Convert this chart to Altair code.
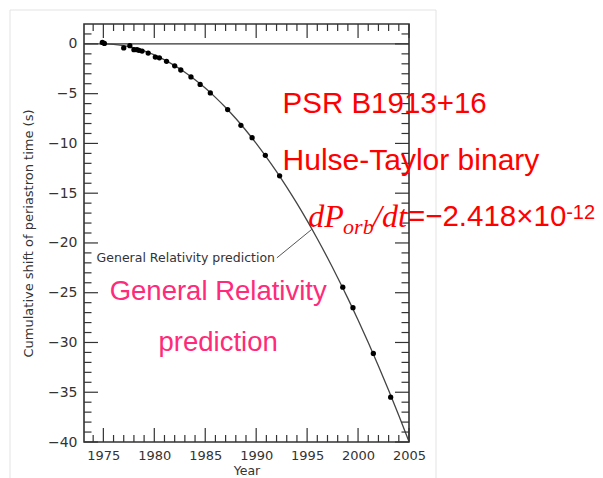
import altair as alt
import pandas as pd

# ---- data ----
obs_year = [1974.9, 1975.1, 1977.0, 1977.6, 1978.0, 1978.3, 1978.5, 1978.8, 1979.4,
            1980.1, 1980.5, 1981.2, 1982.0, 1982.6, 1983.6, 1984.5, 1985.5, 1987.2,
            1988.5, 1989.6, 1990.9, 1992.3, 1998.5, 1999.5, 2001.5, 2003.2]
obs_shift = [0.15, 0.05, -0.40, -0.18, -0.58, -0.58, -0.65, -0.72, -0.92,
             -1.32, -1.40, -1.75, -2.20, -2.62, -3.32, -4.07, -4.93, -6.60,
             -8.18, -9.42, -11.20, -13.25, -24.44, -26.50, -31.10, -35.50]

curve_year = [1975, 1976, 1977, 1978, 1979, 1980, 1981, 1982, 1983, 1984, 1985,
              1986, 1987, 1988, 1989, 1990, 1991, 1992, 1993, 1994, 1995, 1996,
              1997, 1998, 1999, 2000, 2001, 2002, 2003, 2004, 2005]
curve_shift = [0.0, -0.04, -0.18, -0.40, -0.71, -1.11, -1.60, -2.18, -2.84, -3.60, -4.44,
               -5.37, -6.39, -7.50, -8.70, -9.99, -11.37, -12.83, -14.39, -16.03, -17.76,
               -19.58, -21.49, -23.49, -25.57, -27.75, -30.01, -32.37, -34.81, -37.34, -39.96]

x_major = [1975, 1980, 1985, 1990, 1995, 2000, 2005]
x_minor = [1974, 1976, 1977, 1978, 1979, 1981, 1982, 1983, 1984, 1986, 1987, 1988, 1989,
           1991, 1992, 1993, 1994, 1996, 1997, 1998, 1999, 2001, 2002, 2003, 2004]
y_major = [0, -5, -10, -15, -20, -25, -30, -35, -40]
y_minor = [1, -1, -2, -3, -4, -6, -7, -8, -9, -11, -12, -13, -14, -16, -17, -18, -19,
           -21, -22, -23, -24, -26, -27, -28, -29, -31, -32, -33, -34, -36, -37, -38, -39]

leader_year = [1992.03, 1995.46]
leader_shift = [-21.5, -18.63]

# annotation texts (text, anchor year, anchor shift)
ann_text = ["PSR B1913+16", "Hulse-Taylor binary", "dP", "orb", "/dt",
            "=\u22122.418\u00d710", "-12", "General Relativity", "prediction",
            "General Relativity prediction"]
ann_year = [1992.59, 1992.59, 1995.10, 1998.53, 2001.47, 2004.90, 2020.43,
            1986.27, 1986.27, 1991.85]
ann_shift = [-6.98, -12.69, -18.40, -19.06, -18.40, -18.33, -17.55,
             -25.78, -30.82, -21.55]

RED = "#ff0000"
PINK = "#ff2a7a"
ann_style = [
    dict(font="Liberation Sans", fontSize=29.5, color=RED, align="left", baseline="alphabetic"),
    dict(font="Liberation Sans", fontSize=30, color=RED, align="left", baseline="alphabetic"),
    dict(font="Liberation Serif", fontSize=32, color=RED, align="left", baseline="alphabetic", fontStyle="italic"),
    dict(font="Liberation Serif", fontSize=22, color=RED, align="left", baseline="alphabetic", fontStyle="italic"),
    dict(font="Liberation Serif", fontSize=32, color=RED, align="left", baseline="alphabetic", fontStyle="italic"),
    dict(font="Liberation Sans", fontSize=29.5, color=RED, align="left", baseline="alphabetic"),
    dict(font="Liberation Sans", fontSize=20, color=RED, align="left", baseline="alphabetic"),
    dict(font="Liberation Sans", fontSize=27.5, color=PINK, align="center", baseline="alphabetic"),
    dict(font="Liberation Sans", fontSize=27.5, color=PINK, align="center", baseline="alphabetic"),
    dict(font="DejaVu Sans", fontSize=12.5, color="#333333", align="right", baseline="middle"),
]

W, H = 325, 418
xs = alt.Scale(domain=[1973.1, 2005], nice=False, zero=False)
ys = alt.Scale(domain=[-40, 2], nice=False, zero=False)

FONT = "DejaVu Sans"
x_axis = alt.Axis(values=x_major, format="d", ticks=False, tickSize=0, domain=False, grid=False,
                  labelFont=FONT, labelFontSize=13, labelColor="#333333", labelPadding=7,
                  labelFlush=False, title="Year", titleFont=FONT, titleFontSize=12.5,
                  titleFontWeight="normal", titleColor="#333333", titleY=32.5,
                  titleBaseline="alphabetic")
y_axis = alt.Axis(values=y_major, format="d", ticks=False, tickSize=0, domain=False, grid=False,
                  labelFont=FONT, labelFontSize=14, labelColor="#333333", labelPadding=7,
                  labelFlush=False, title="Cumulative shift of periastron time (s)",
                  titleFont=FONT, titleFontSize=13, titleFontWeight="normal",
                  titleColor="#333333", titleAngle=270, titleX=-56, titleY=H / 2,
                  titleBaseline="middle", titleAlign="center")

obs_df = pd.DataFrame({"year": obs_year, "shift": obs_shift})
curve_df = pd.DataFrame({"year": curve_year, "shift": curve_shift})
leader_df = pd.DataFrame({"year": leader_year, "shift": leader_shift})

one = pd.DataFrame({"a": [0]})
border = alt.Chart(one).mark_rect(fillOpacity=0, stroke="#e3e3e3", strokeWidth=1).encode(
    x=alt.value(-74), x2=alt.value(352), y=alt.value(-14), y2=alt.value(470))

points = alt.Chart(obs_df).mark_point(filled=True, shape="circle", size=28, color="#000000",
                                       opacity=1).encode(
    x=alt.X("year:Q", scale=xs, axis=x_axis),
    y=alt.Y("shift:Q", scale=ys, axis=y_axis))

curve = alt.Chart(curve_df).mark_line(color="#444444", strokeWidth=1.3,
                                      interpolate="monotone").encode(
    x=alt.X("year:Q", scale=xs), y=alt.Y("shift:Q", scale=ys))

zero = alt.Chart(pd.DataFrame({"shift": [0]})).mark_rule(color="#333333", strokeWidth=1.3).encode(
    y=alt.Y("shift:Q", scale=ys))

leader = alt.Chart(leader_df).mark_line(color="#555555", strokeWidth=1).encode(
    x=alt.X("year:Q", scale=xs), y=alt.Y("shift:Q", scale=ys))

TICK = "#333333"
def xticks(vals, length):
    d = pd.DataFrame({"v": vals})
    top = alt.Chart(d).mark_rule(color=TICK, strokeWidth=1.2).encode(
        x=alt.X("v:Q", scale=xs), y=alt.value(0), y2=alt.value(length))
    bot = alt.Chart(d).mark_rule(color=TICK, strokeWidth=1.2).encode(
        x=alt.X("v:Q", scale=xs), y=alt.value(H), y2=alt.value(H - length))
    return [top, bot]

def yticks(vals, length):
    d = pd.DataFrame({"v": vals})
    left = alt.Chart(d).mark_rule(color=TICK, strokeWidth=1.2).encode(
        y=alt.Y("v:Q", scale=ys), x=alt.value(0), x2=alt.value(length))
    right = alt.Chart(d).mark_rule(color=TICK, strokeWidth=1.2).encode(
        y=alt.Y("v:Q", scale=ys), x=alt.value(W), x2=alt.value(W - length))
    return [left, right]

tick_layers = xticks(x_major, 14) + xticks(x_minor, 7) + yticks(y_major, 14) + yticks(y_minor, 7.5)

text_layers = []
for t, xv, yv, st in zip(ann_text, ann_year, ann_shift, ann_style):
    st = dict(st)
    color = st.pop("color")
    d = pd.DataFrame({"year": [xv], "shift": [yv], "label": [t]})
    text_layers.append(
        alt.Chart(d).mark_text(color=color, **st).encode(
            x=alt.X("year:Q", scale=xs), y=alt.Y("shift:Q", scale=ys), text="label:N"))

chart = alt.layer(border, zero, curve, leader, *tick_layers, points, *text_layers).properties(
    width=W, height=H,
    autosize=alt.AutoSizeParams(type="none"),
    padding={"left": 84, "top": 24, "right": 603 - 84 - W, "bottom": 478 - 24 - H},
    background="#ffffff",
).configure_view(stroke="#333333", strokeWidth=1.6)

chart.save("out.html", embed_options={"renderer": "svg", "actions": False})
